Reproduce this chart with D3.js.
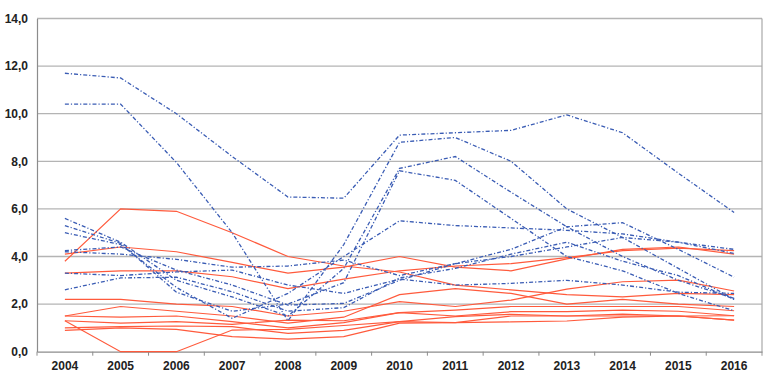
<!DOCTYPE html>
<html>
<head>
<meta charset="utf-8">
<script src="https://cdn.jsdelivr.net/npm/d3@7"></script>
<style>
  body { margin: 0; background: #fff; }
  text { font-family: "Liberation Sans", Arial, sans-serif; }
</style>
</head>
<body>
<script>
// categories
let years = ["2004","2005","2006","2007","2008","2009","2010","2011","2012","2013","2014","2015","2016"];
let yTicks = [0, 2, 4, 6, 8, 10, 12, 14];

// blue dash-dot series
let blue1 = [11.7, 11.5, 10.0, 8.2, 6.5, 6.45, 9.1, 9.2, 9.3, 9.95, 9.2, 7.5, 5.85];
let blue2 = [10.4, 10.4, 7.95, 5.0, 1.3, 4.5, 8.8, 9.0, 8.0, 6.0, 4.8, 3.5, 2.2];
let blue3 = [5.6, 4.6, 3.0, 2.3, 1.5, 3.5, 7.7, 8.2, 6.7, 5.25, 4.0, 3.0, 2.24];
let blue4 = [5.3, 4.55, 2.5, 1.7, 2.0, 2.9, 7.6, 7.2, 5.6, 4.0, 3.4, 2.45, 1.72];
let blue5 = [5.0, 4.5, 2.7, 1.4, 2.45, 4.0, 5.5, 5.3, 5.2, 5.1, 4.95, 4.6, 4.13];
let blue6 = [4.25, 4.4, 3.43, 2.8, 1.96, 2.03, 3.0, 3.7, 4.3, 5.25, 5.42, 4.3, 3.13];
let blue7 = [4.2, 4.1, 3.88, 3.55, 3.6, 3.85, 3.2, 3.7, 4.0, 4.4, 4.8, 4.6, 4.3];
let blue8 = [3.3, 3.2, 3.35, 3.43, 2.8, 2.45, 3.05, 2.8, 2.87, 3.0, 2.8, 2.5, 2.45];
let blue9 = [2.6, 3.1, 3.13, 2.52, 1.7, 1.85, 3.1, 3.5, 4.1, 4.6, 3.8, 3.2, 2.2];

// red solid series
let red1 = [3.8, 6.0, 5.9, 5.0, 4.0, 3.6, 3.35, 2.8, 2.6, 2.4, 2.3, 2.45, 2.4];
let red2 = [4.1, 4.4, 4.2, 3.75, 3.3, 3.55, 4.0, 3.55, 3.4, 3.9, 4.3, 4.4, 4.1];
let red3 = [3.3, 3.4, 3.4, 3.15, 2.65, 3.05, 3.4, 3.6, 3.7, 3.95, 4.25, 4.35, 4.25];
let red4 = [2.2, 2.2, 2.0, 1.9, 1.5, 1.7, 2.1, 1.9, 2.17, 2.63, 2.94, 3.01, 2.55];
let red5 = [1.5, 1.9, 1.7, 1.5, 1.2, 1.45, 2.4, 2.65, 2.45, 2.0, 2.2, 2.0, 1.9];
let red6 = [1.5, 1.45, 1.5, 1.26, 1.0, 1.22, 1.64, 1.75, 1.9, 1.9, 1.9, 1.9, 1.72];
let red7 = [1.3, 1.2, 1.26, 1.15, 1.33, 1.3, 1.64, 1.5, 1.68, 1.68, 1.75, 1.7, 1.51];
let red8 = [1.3, 0.0, 0.0, 0.91, 0.94, 1.1, 1.26, 1.47, 1.57, 1.5, 1.58, 1.5, 1.33];
let red9 = [1.0, 1.05, 1.08, 1.05, 0.77, 0.9, 1.26, 1.22, 1.5, 1.5, 1.5, 1.5, 1.51];
let red10 = [0.9, 1.0, 0.94, 0.63, 0.53, 0.63, 1.2, 1.22, 1.25, 1.29, 1.45, 1.5, 1.33];

let blues = [blue1, blue2, blue3, blue4, blue5, blue6, blue7, blue8, blue9];
let reds = [red1, red2, red3, red4, red5, red6, red7, red8, red9, red10];

let width = 780, height = 386;
let margin = {top: 18.5, right: 18, bottom: 34.3, left: 37};

let svg = d3.select("body")
.append("svg")
.attr("width", width)
.attr("height", height);

let x = d3.scaleBand()
.domain(years)
.range([margin.left, width - margin.right]);

let y = d3.scaleLinear()
.domain([0, 14])
.range([height - margin.bottom, margin.top]);

// grid lines
svg.append("g")
.selectAll("line")
.data(yTicks.filter(d => d > 0))
.enter()
.append("line")
.attr("x1", margin.left)
.attr("x2", width - margin.right)
.attr("y1", d => y(d))
.attr("y2", d => y(d))
.attr("stroke", "#b4b4b4")
.attr("stroke-width", 1.3);

// right border
svg.append("line")
.attr("x1", width - margin.right).attr("x2", width - margin.right)
.attr("y1", y(14)).attr("y2", y(0) + 4)
.attr("stroke", "#a8a8a8").attr("stroke-width", 1.2);

// y axis
let yAxis = svg.append("g")
.attr("transform", "translate(" + margin.left + ",0)")
.call(d3.axisLeft(y).tickValues(yTicks).tickSize(0).tickPadding(9)
  .tickFormat(d => d3.format(".1f")(d).replace(".", ",")));
yAxis.select(".domain").attr("stroke", "#8c8c8c").attr("stroke-width", 1.2);
yAxis.selectAll("text").attr("font-size", 12).attr("font-weight", "bold").attr("fill", "#222");

// x axis
let xAxis = svg.append("g")
.attr("transform", "translate(0," + y(0) + ")")
.call(d3.axisBottom(x).tickSize(0).tickPadding(10));
xAxis.select(".domain").attr("stroke", "#8c8c8c").attr("stroke-width", 1.2);
xAxis.selectAll("text").attr("font-size", 12).attr("font-weight", "bold").attr("fill", "#222");

// tick marks between categories
svg.append("g")
.selectAll("line")
.data(years)
.enter()
.append("line")
.attr("x1", d => x(d)).attr("x2", d => x(d))
.attr("y1", y(0)).attr("y2", y(0) + 4)
.attr("stroke", "#8c8c8c").attr("stroke-width", 1);

let line = d3.line()
.x((d, i) => x(years[i]) + x.bandwidth() / 2)
.y(d => y(d));

svg.append("g")
.attr("fill", "none")
.attr("stroke", "#ff5a3c")
.attr("stroke-width", 1.2)
.selectAll("path")
.data(reds)
.enter()
.append("path")
.attr("d", line);

svg.append("g")
.attr("fill", "none")
.attr("stroke", "#3a5cb4")
.attr("stroke-width", 1.3)
.attr("stroke-dasharray", "4,2,1.2,2")
.selectAll("path")
.data(blues)
.enter()
.append("path")
.attr("d", line);
</script>
</body>
</html>
